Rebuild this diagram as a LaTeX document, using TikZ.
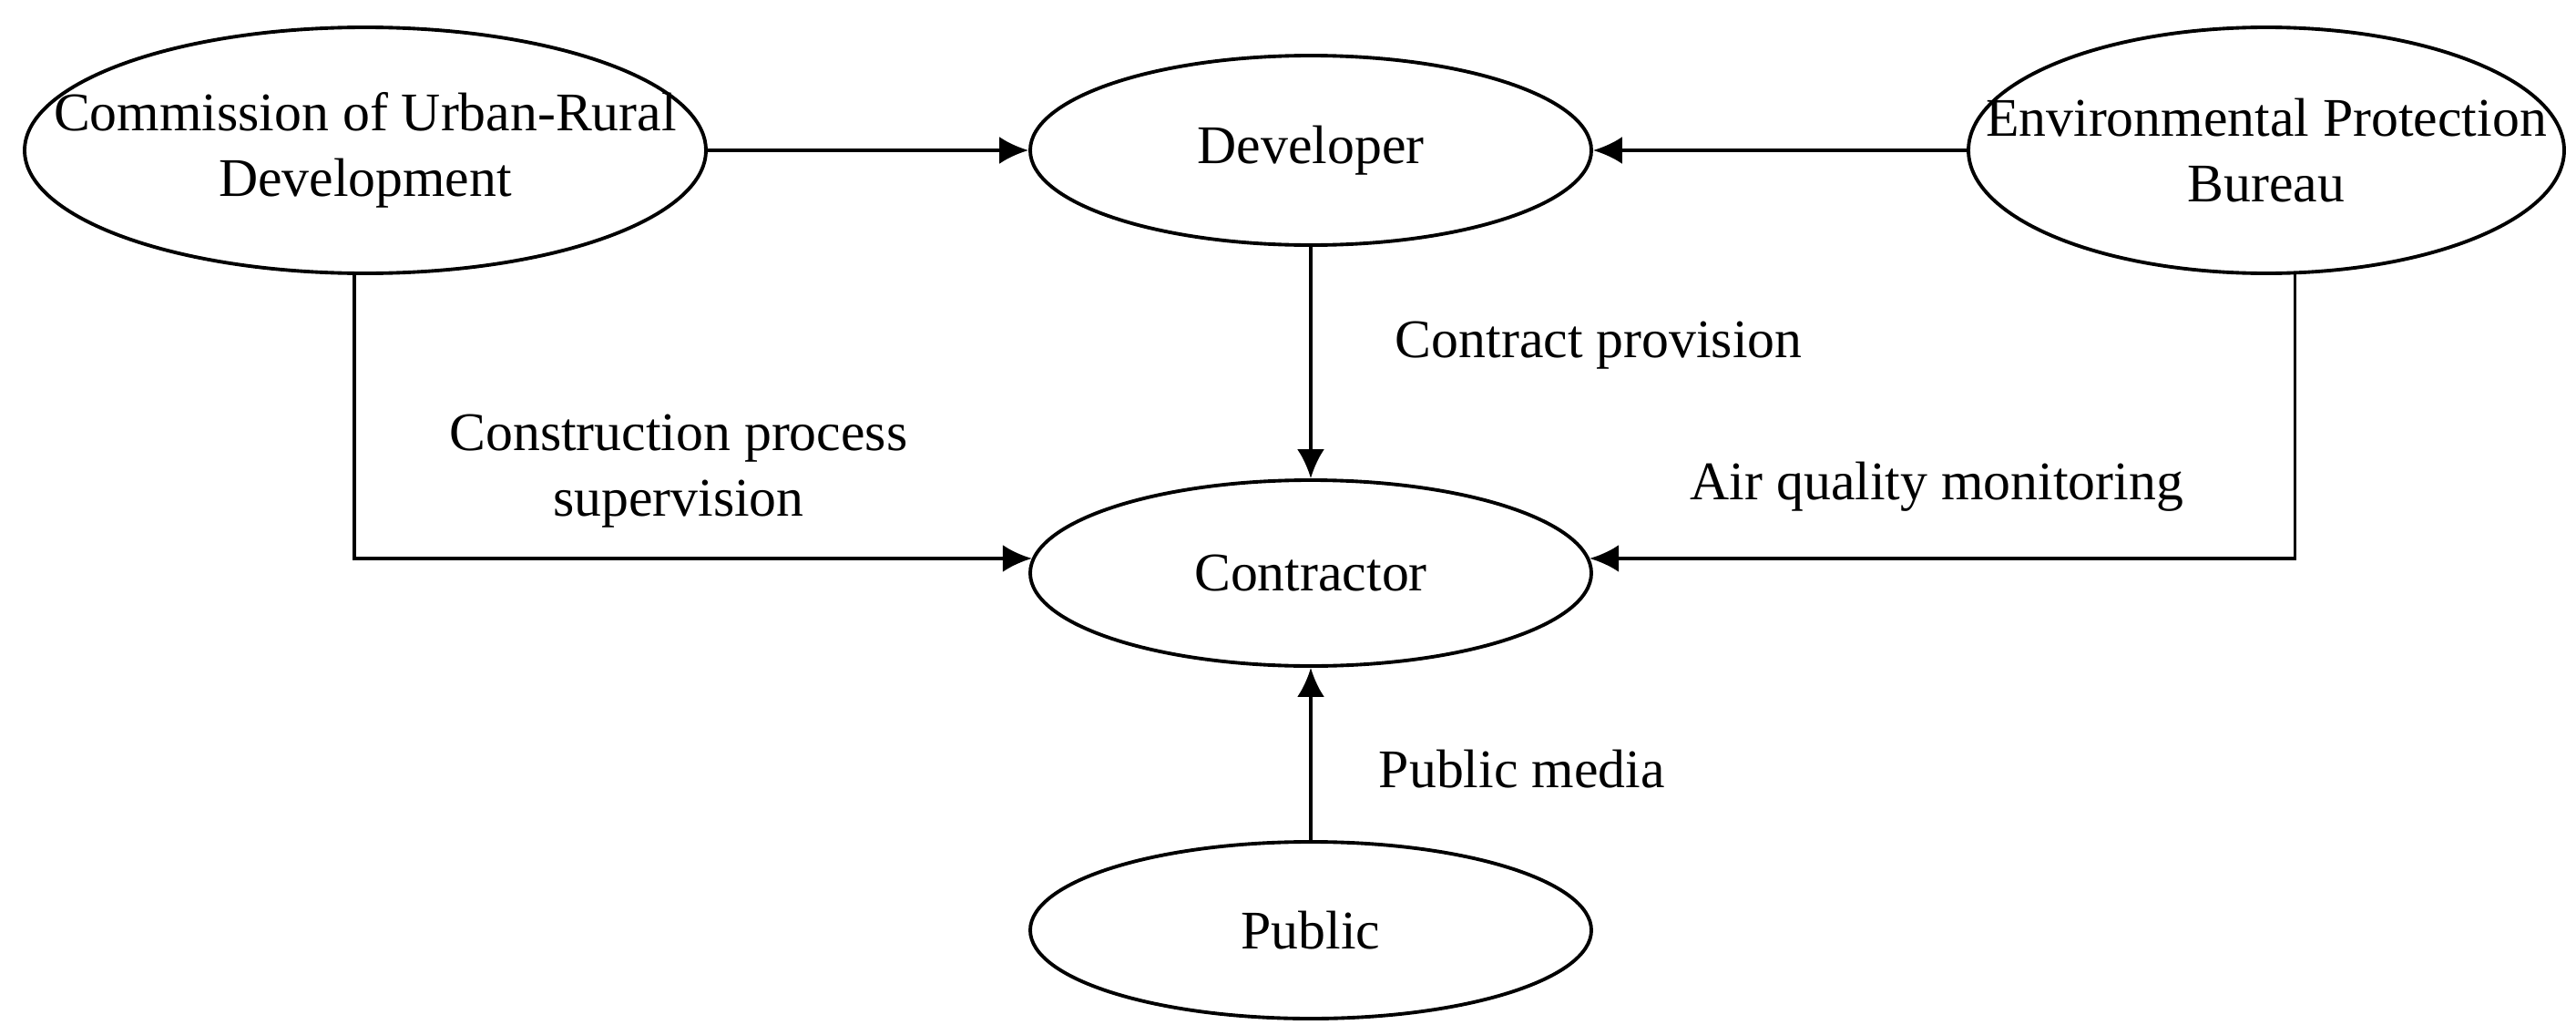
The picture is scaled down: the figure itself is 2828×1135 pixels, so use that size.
\documentclass[tikz,border=0pt]{standalone}
\usepackage{fontspec}
\setmainfont{Liberation Serif}
\usepackage{tikz}
\usetikzlibrary{shapes.geometric}
\usetikzlibrary{calc,arrows.meta}

\tikzset{
	party/.style={draw, ellipse, line width=1.1pt, inner sep=0pt},
	every label/.style={inner sep=0pt, align=center, font=\fontsize{17}{20.5}\selectfont},
	flow/.style={line width=1.1pt, -{Latex[length=3.2mm,width=3mm]}},
	note/.style={inner sep=0pt, align=center, font=\fontsize{17}{20.5}\selectfont}
}

\begin{document}
\begin{tikzpicture}[x=0.1mm,y=0.1mm]
		\useasboundingbox (0,0) rectangle (2828,1135);
		
		%top row
		\node[party, minimum width=74.8mm, minimum height=27mm, label=center:{Commission of Urban-Rural\\Development}] (comm) at (401,970) {};
		\node[party, minimum width=61.6mm, minimum height=20.8mm, label=center:Developer] (dev) at (1439,970) {};
		\node[party, minimum width=65.4mm, minimum height=27mm, label=center:{Environmental Protection\\Bureau}] (env) at (2488,970) {};
		
		%middle and bottom
		\node[party, minimum width=61.6mm, minimum height=20.4mm, label=center:Contractor] (contr) at (1439,506) {};
		\node[party, minimum width=61.6mm, minimum height=19.4mm, label=center:Public] (pub) at (1439,114) {};
		
		%arrows into developer
		\draw[flow] (comm.east) -- (dev.west);
		\draw[flow] (env.west) -- (dev.east);
		
		%arrows into contractor
		\draw[flow] (dev.south) -- (contr.north) node[note, pos=0.426, anchor=west, xshift=9.1mm] {Contract provision};
		\draw[flow] (comm.-95) |- (contr.177) node[note, pos=0.75, xshift=-1.6mm, yshift=9.6mm] {Construction process\\supervision};
		\draw[flow] (env.-77) |- (contr.3) node[note, pos=0.75, xshift=-0.6mm, yshift=7.9mm] {Air quality monitoring};
		\draw[flow] (pub.north) -- (contr.south) node[note, pos=0.41, anchor=west, xshift=7.3mm] {Public media};
		
\end{tikzpicture}
\end{document}
